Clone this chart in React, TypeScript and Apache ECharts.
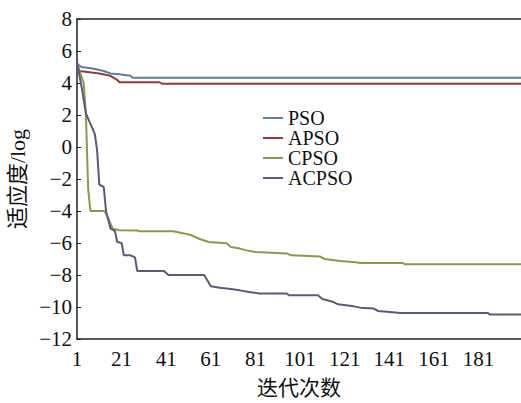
import React, { useEffect, useRef } from "react";
import * as echarts from "echarts";

const iterations: string[] = Array.from({ length: 200 }, (_, i) => String(i + 1));
const yTicks = { min: -12, max: 8, interval: 2 };
const seriesNames = ["PSO", "APSO", "CPSO", "ACPSO"];
const seriesColors = ["#5a7f9c", "#943a3f", "#8a9a4c", "#64557a"];

const psoData: [number, number][] = [
  [1, 5.2], [3, 5.0], [8, 4.9], [13, 4.75], [16, 4.6], [20, 4.55], [25, 4.45], [26, 4.33], [200, 4.33],
];
const apsoData: [number, number][] = [
  [1, 5.25], [2, 4.75], [11, 4.6], [16, 4.45], [19, 4.2], [20, 4.05], [38, 4.05], [39, 3.95], [200, 3.95],
];
const cpsoData: [number, number][] = [
  [1, 5.2], [4, 4.0], [5, 2.0], [6, -2.6], [7, -4.0], [13, -4.0], [14, -4.15], [17, -5.1], [20, -5.2],
  [28, -5.22], [29, -5.27], [44, -5.27], [49, -5.4], [52, -5.5], [56, -5.75], [60, -5.94], [68, -6.02],
  [70, -6.25], [74, -6.35], [77, -6.46], [81, -6.56], [95, -6.65], [97, -6.77], [110, -6.85], [112, -7.0],
  [119, -7.12], [126, -7.2], [128, -7.25], [147, -7.25], [148, -7.33], [200, -7.33],
];
const acpsoData: [number, number][] = [
  [1, 5.3], [3, 3.8], [5, 2.1], [9, 0.8], [10, -0.2], [11, -2.35], [13, -2.5], [14, -4.0], [16, -5.1],
  [18, -5.25], [19, -5.94], [21, -6.0], [22, -6.77], [25, -6.77], [27, -6.9], [28, -7.75], [40, -7.75],
  [42, -8.0], [58, -8.0], [61, -8.7], [65, -8.8], [70, -8.87], [74, -8.96], [78, -9.06], [83, -9.16],
  [95, -9.16], [96, -9.27], [109, -9.27], [111, -9.5], [116, -9.69], [118, -9.83], [125, -9.96],
  [128, -10.04], [134, -10.1], [136, -10.25], [141, -10.31], [146, -10.37], [185, -10.37], [186, -10.47],
  [200, -10.47],
];
const allData = [psoData, apsoData, cpsoData, acpsoData];

const serif = "Liberation Serif, Noto Sans CJK SC, serif";

export default function App() {
  const ref = useRef<HTMLDivElement>(null);
  useEffect(() => {
    if (!ref.current) return;
    const chart = echarts.init(ref.current, null, { renderer: "svg" });
    chart.setOption({
      animation: false,
      backgroundColor: "#ffffff",
      textStyle: { fontFamily: serif },
      grid: { left: 77, right: 0, top: 19, bottom: 64, containLabel: false, outerBoundsMode: "none" },
      legend: {
        orient: "vertical",
        left: 258,
        top: 103,
        icon: "rect",
        itemWidth: 20,
        itemHeight: 2,
        itemGap: 0,
        data: seriesNames,
        textStyle: { fontFamily: serif, fontSize: 20, lineHeight: 19, color: "#111" },
      },
      xAxis: [
        {
          type: "category",
          data: iterations,
          boundaryGap: false,
          name: "迭代次数",
          nameLocation: "middle",
          nameGap: 38,
          nameTextStyle: { fontFamily: serif, fontSize: 21, color: "#111" },
          axisLine: { onZero: false, lineStyle: { color: "#222", width: 1.5 } },
          axisTick: { show: false },
          axisLabel: { interval: 19, fontFamily: serif, fontSize: 21, color: "#111", margin: 9 },
          splitLine: { show: false },
        },
        {
          type: "category",
          data: iterations,
          boundaryGap: false,
          position: "top",
          axisLine: { onZero: false, lineStyle: { color: "#222", width: 1.5 } },
          axisTick: { show: false },
          axisLabel: { show: false },
          splitLine: { show: false },
        },
      ],
      yAxis: {
        type: "value",
        min: yTicks.min,
        max: yTicks.max,
        interval: yTicks.interval,
        name: "适应度/log",
        nameLocation: "middle",
        nameGap: 40,
        nameTextStyle: { fontFamily: serif, fontSize: 22, color: "#111" },
        axisLine: { show: true, onZero: false, lineStyle: { color: "#222", width: 1.5 } },
        axisTick: { show: true, inside: true, length: 4, lineStyle: { color: "#222" } },
        axisLabel: {
          fontFamily: serif,
          fontSize: 21,
          color: "#111",
          margin: 5,
          formatter: (v: number) => String(v).replace("-", "\u2212"),
        },
        splitLine: { show: false },
      },
      series: seriesNames.map((name, i) => ({
        name,
        type: "line",
        symbol: "none",
        color: seriesColors[i],
        lineStyle: { width: 2, color: seriesColors[i] },
        data: allData[i].map(([x, y]) => [String(x), y]),
      })),
    });
    return () => chart.dispose();
  }, []);
  return (
    <div
      ref={ref}
      style={{ position: "fixed", left: 0, top: 0, width: 521, height: 403, background: "#fff" }}
    />
  );
}
